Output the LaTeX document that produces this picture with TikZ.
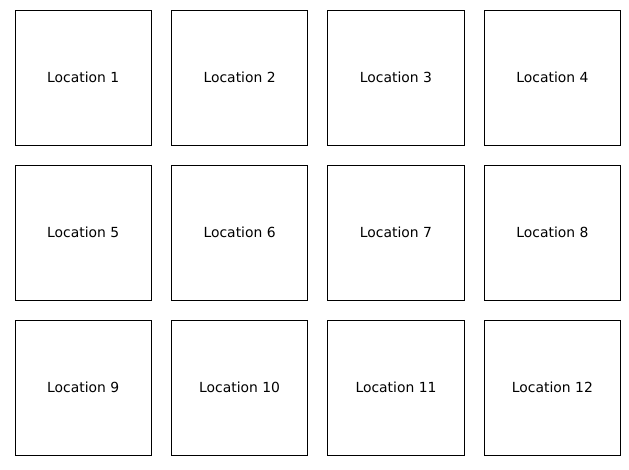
\documentclass[tikz,border=0pt]{standalone}
\usepackage{fontspec}
\setmainfont{DejaVu Sans}
\begin{document}
\begin{tikzpicture}[x=1pt,y=1pt,
  locbox/.style={draw=black, line width=0.9pt, minimum width=136.4pt, minimum height=135pt, inner sep=0pt, font=\fontsize{13.9}{16}\selectfont, text=black}]
\useasboundingbox (0,0) rectangle (629,470);
\foreach \r in {0,1,2}{
  \foreach \c in {0,1,2,3}{
    \pgfmathtruncatemacro{\n}{\r*4+\c+1}
    \node[locbox] (loc\n) at ({15+68.2+\c*156.4},{470-10-67.5-\r*155}) {Location \n};
  }
}
\end{tikzpicture}
\end{document}
